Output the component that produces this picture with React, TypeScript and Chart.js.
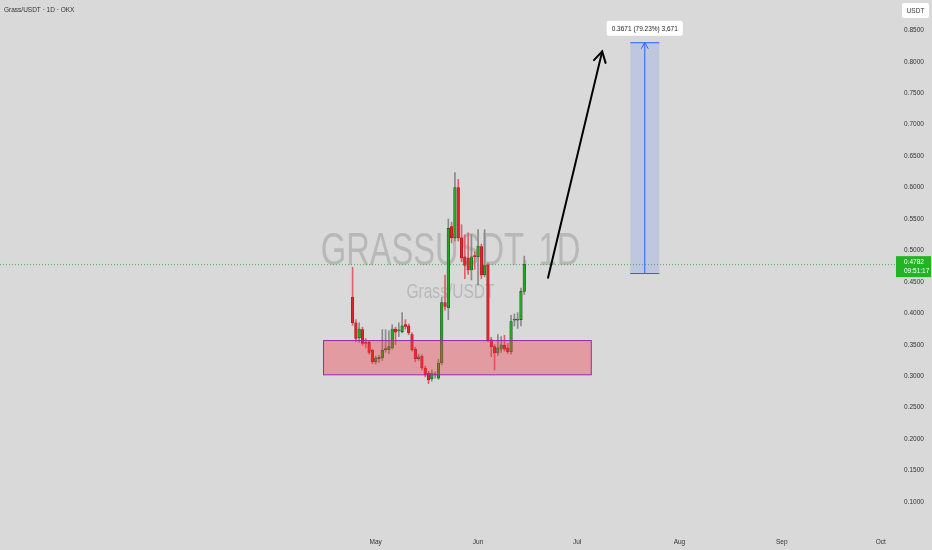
import React, { useEffect, useRef } from "react";
import { Chart, registerables } from "chart.js";

Chart.register(...registerables);

// Day offsets relative to May 1 (0 = May 1)
const candleDays = [-7,-6,-5,-4,-3,-2,-1,0,1,2,3,4,5,6,7,8,9,10,11,12,13,14,15,16,17,18,19,20,21,22,23,24,25,26,27,28,29,30,31,32,33,34,35,36,37,38,39,40,41,42,43,44,45];
const openP  = [0.426,0.385,0.361,0.374,0.354,0.354,0.341,0.323,0.328,0.329,0.342,0.342,0.345,0.375,0.372,0.371,0.382,0.380,0.366,0.343,0.328,0.332,0.313,0.305,0.296,0.302,0.297,0.321,0.417,0.409,0.538,0.520,0.600,0.520,0.490,0.488,0.469,0.491,0.490,0.506,0.461,0.477,0.358,0.347,0.337,0.343,0.349,0.345,0.339,0.389,0.389,0.390,0.435];
const highP  = [0.473,0.390,0.385,0.378,0.360,0.356,0.343,0.332,0.333,0.374,0.374,0.372,0.382,0.378,0.385,0.401,0.390,0.383,0.369,0.346,0.335,0.334,0.316,0.308,0.310,0.307,0.327,0.425,0.461,0.550,0.545,0.624,0.613,0.541,0.525,0.528,0.525,0.498,0.533,0.510,0.533,0.480,0.362,0.350,0.366,0.363,0.365,0.352,0.397,0.399,0.401,0.440,0.491];
const lowP   = [0.381,0.355,0.354,0.349,0.345,0.335,0.320,0.319,0.322,0.325,0.338,0.336,0.343,0.350,0.363,0.369,0.375,0.366,0.340,0.323,0.325,0.310,0.299,0.288,0.292,0.297,0.295,0.318,0.405,0.390,0.512,0.515,0.515,0.482,0.455,0.462,0.453,0.470,0.445,0.455,0.458,0.355,0.331,0.310,0.333,0.338,0.340,0.336,0.335,0.380,0.376,0.380,0.430];
const closeP = [0.385,0.360,0.375,0.352,0.352,0.338,0.323,0.329,0.329,0.341,0.343,0.347,0.375,0.370,0.373,0.380,0.379,0.369,0.342,0.328,0.331,0.313,0.302,0.294,0.305,0.303,0.321,0.417,0.411,0.535,0.520,0.600,0.520,0.488,0.476,0.469,0.490,0.490,0.507,0.461,0.476,0.358,0.347,0.337,0.345,0.350,0.343,0.339,0.387,0.390,0.391,0.435,0.478];

const priceTicks = [0.1,0.15,0.2,0.25,0.3,0.35,0.4,0.45,0.5,0.55,0.6,0.65,0.7,0.75,0.8,0.85];
const monthDays = [0,31,61,92,123,153];
const monthLabels = ["May","Jun","Jul","Aug","Sep","Oct"];

const zoneDays = [-15.8, 65.3];
const zonePrices = [0.3022, 0.3567];
const measureDays = [77.1, 85.9];
const measurePrices = [0.4633, 0.8304];
const measureText = "0.3671 (79.23%) 3,671";
const arrowDays = [52.2, 68.6];
const arrowPrices = [0.4567, 0.8166];
const lastPrice = 0.4782;
const lastPriceText = "0.4782";
const countdownText = "09:51:17";
const titleText = "Grass/USDT · 1D · OKX";
const watermarkMain = "GRASSUSDT, 1D";
const watermarkSub = "Grass/USDT";

const GREEN = "#1fa81f";
const RED = "#e3222c";
const FONT = "'Liberation Sans', Arial, sans-serif";

function arrowHead(ctx: CanvasRenderingContext2D, x1: number, y1: number, x2: number, y2: number, len: number) {
  const a = Math.atan2(y2 - y1, x2 - x1);
  ctx.beginPath();
  ctx.moveTo(x2 - len * Math.cos(a - Math.PI / 6), y2 - len * Math.sin(a - Math.PI / 6));
  ctx.lineTo(x2, y2);
  ctx.lineTo(x2 - len * Math.cos(a + Math.PI / 6), y2 - len * Math.sin(a + Math.PI / 6));
  ctx.stroke();
}

const overlayPlugin = {
  id: "overlay",
  beforeDraw(chart: any) {
    const ctx = chart.ctx;
    ctx.save();
    ctx.fillStyle = "#d9d9d9";
    ctx.fillRect(0, 0, chart.width, chart.height);
    ctx.restore();
  },
  beforeDatasetsDraw(chart: any) {
    const ctx = chart.ctx;
    const { chartArea } = chart;
    const cx = (chartArea.left + chartArea.right) / 2 + 2;
    ctx.save();
    ctx.fillStyle = "rgba(145,145,145,0.45)";
    ctx.textAlign = "center";
    ctx.textBaseline = "alphabetic";
    ctx.save();
    ctx.translate(cx, 265);
    ctx.scale(0.71, 1);
    ctx.font = `46px ${FONT}`;
    ctx.fillText(watermarkMain, 0, 0);
    ctx.restore();
    ctx.save();
    ctx.translate(cx, 298);
    ctx.scale(0.74, 1);
    ctx.font = `21px ${FONT}`;
    ctx.fillText(watermarkSub, 0, 0);
    ctx.restore();
    // last price dotted line
    const y = chart.scales.y.getPixelForValue(lastPrice);
    ctx.strokeStyle = "#4caf50";
    ctx.lineWidth = 1;
    ctx.setLineDash([1, 2]);
    ctx.beginPath();
    ctx.moveTo(0, y + 0.5);
    ctx.lineTo(chart.width - 35, y + 0.5);
    ctx.stroke();
    ctx.restore();
  },
  afterDatasetsDraw(chart: any) {
    const ctx = chart.ctx;
    const xs = chart.scales.x;
    const ys = chart.scales.y;
    ctx.save();
    // support zone
    const zx1 = xs.getPixelForValue(zoneDays[0]);
    const zx2 = xs.getPixelForValue(zoneDays[1]);
    const zy1 = ys.getPixelForValue(zonePrices[1]);
    const zy2 = ys.getPixelForValue(zonePrices[0]);
    ctx.fillStyle = "rgba(242,54,69,0.38)";
    ctx.fillRect(zx1, zy1, zx2 - zx1, zy2 - zy1);
    ctx.strokeStyle = "#9c27b0";
    ctx.lineWidth = 1;
    ctx.strokeRect(zx1, zy1, zx2 - zx1, zy2 - zy1);

    // measurement box
    const mx1 = xs.getPixelForValue(measureDays[0]);
    const mx2 = xs.getPixelForValue(measureDays[1]);
    const myTop = ys.getPixelForValue(measurePrices[1]);
    const myBot = ys.getPixelForValue(measurePrices[0]);
    ctx.fillStyle = "rgba(41,98,255,0.15)";
    ctx.fillRect(mx1, myTop, mx2 - mx1, myBot - myTop);
    ctx.strokeStyle = "#2962ff";
    ctx.lineWidth = 1;
    ctx.beginPath();
    ctx.moveTo(mx1, myTop); ctx.lineTo(mx2, myTop);
    ctx.moveTo(mx1, myBot); ctx.lineTo(mx2, myBot);
    const mxc = (mx1 + mx2) / 2;
    ctx.moveTo(mxc, myBot); ctx.lineTo(mxc, myTop);
    ctx.stroke();
    arrowHead(ctx, mxc, myBot, mxc, myTop, 7);

    // label
    ctx.font = `6.5px ${FONT}`;
    const tw = ctx.measureText(measureText).width;
    const bw = tw + 10, bh = 15;
    const bx = mxc - bw / 2, by = myTop - 22;
    ctx.fillStyle = "#ffffff";
    ctx.beginPath();
    (ctx as any).roundRect(bx, by, bw, bh, 2);
    ctx.fill();
    ctx.fillStyle = "#222";
    ctx.textAlign = "center";
    ctx.textBaseline = "middle";
    ctx.fillText(measureText, mxc, by + bh / 2 + 0.5);

    // black arrow
    const ax1 = xs.getPixelForValue(arrowDays[0]);
    const ay1 = ys.getPixelForValue(arrowPrices[0]);
    const ax2 = xs.getPixelForValue(arrowDays[1]);
    const ay2 = ys.getPixelForValue(arrowPrices[1]);
    ctx.strokeStyle = "#000";
    ctx.lineWidth = 2;
    ctx.lineCap = "round";
    ctx.beginPath();
    ctx.moveTo(ax1, ay1); ctx.lineTo(ax2, ay2);
    ctx.stroke();
    arrowHead(ctx, ax1, ay1, ax2, ay2, 12);
    ctx.restore();
  },
  afterDraw(chart: any) {
    const ctx = chart.ctx;
    const ys = chart.scales.y;
    ctx.save();
    // title
    ctx.fillStyle = "#333";
    ctx.font = `6.5px ${FONT}`;
    ctx.textAlign = "left";
    ctx.textBaseline = "middle";
    ctx.fillText(titleText, 4, 10);
    // USDT box
    ctx.fillStyle = "#ffffff";
    ctx.beginPath();
    (ctx as any).roundRect(902, 3, 27, 15, 2);
    ctx.fill();
    ctx.fillStyle = "#333";
    ctx.textAlign = "center";
    ctx.fillText("USDT", 915.5, 11);
    // last price label
    const y = ys.getPixelForValue(lastPrice);
    ctx.fillStyle = "#22b422";
    ctx.fillRect(896, y - 8, 35, 21);
    ctx.fillStyle = "#ffffff";
    ctx.textAlign = "left";
    ctx.font = `6.5px ${FONT}`;
    ctx.fillText(lastPriceText, 904, y - 2);
    ctx.fillText(countdownText, 904, y + 7.5);
    ctx.restore();
  },
};

export default function App() {
  const ref = useRef<HTMLCanvasElement | null>(null);
  useEffect(() => {
    document.body.style.margin = "0";
    if (!ref.current) return;
    const up = candleDays.map((_, i) => closeP[i] >= openP[i]);
    const chart = new Chart(ref.current, {
      type: "bar",
      data: {
        datasets: [
          {
            label: "body",
            data: candleDays.map((d, i) => ({ x: d, y: [openP[i], closeP[i]] })) as any,
            backgroundColor: up.map((u) => (u ? GREEN : RED)),
            borderColor: up.map((u) => (u ? "#1d4d1d" : "#a3161d")),
            borderWidth: 0.6,
            borderSkipped: false,
            barThickness: 2.6,
            minBarLength: 1.2,
            grouped: false,
          } as any,
          {
            label: "wick",
            data: candleDays.map((d, i) => ({ x: d, y: [lowP[i], highP[i]] })) as any,
            backgroundColor: up.map((u) => (u ? "#8a8a8a" : "#e0606a")),
            borderWidth: 0,
            barThickness: 1,
            grouped: false,
          } as any,
        ],
      },
      options: {
        animation: false,
        responsive: true,
        maintainAspectRatio: false,
        layout: { padding: 0 },
        plugins: { legend: { display: false }, tooltip: { enabled: false } },
        scales: {
          x: {
            type: "linear",
            min: -113.8,
            max: 157.9,
            offset: false,
            grid: { display: false, drawTicks: false },
            border: { display: false },
            afterBuildTicks: (s: any) => {
              s.ticks = monthDays.map((v) => ({ value: v }));
            },
            afterFit: (s: any) => {
              s.height = 18;
            },
            ticks: {
              autoSkip: false,
              maxRotation: 0,
              padding: 6,
              color: "#333",
              font: { size: 6.5, family: FONT },
              callback: (_v: any, i: number) => monthLabels[i],
            },
          },
          y: {
            position: "right",
            min: 0.0522,
            max: 0.881,
            grid: { display: false, drawTicks: false },
            border: { display: false },
            afterBuildTicks: (s: any) => {
              s.ticks = priceTicks.map((v) => ({ value: v }));
            },
            afterFit: (s: any) => {
              s.width = 35;
            },
            ticks: {
              padding: 7,
              color: "#333",
              font: { size: 6.5, family: FONT },
              callback: (v: any) => Number(v).toFixed(4),
            },
          },
        },
      },
      plugins: [overlayPlugin],
    });
    return () => chart.destroy();
  }, []);
  return (
    <div style={{ position: "fixed", left: 0, top: 0, width: 932, height: 550, background: "#d9d9d9" }}>
      <canvas ref={ref} />
    </div>
  );
}
